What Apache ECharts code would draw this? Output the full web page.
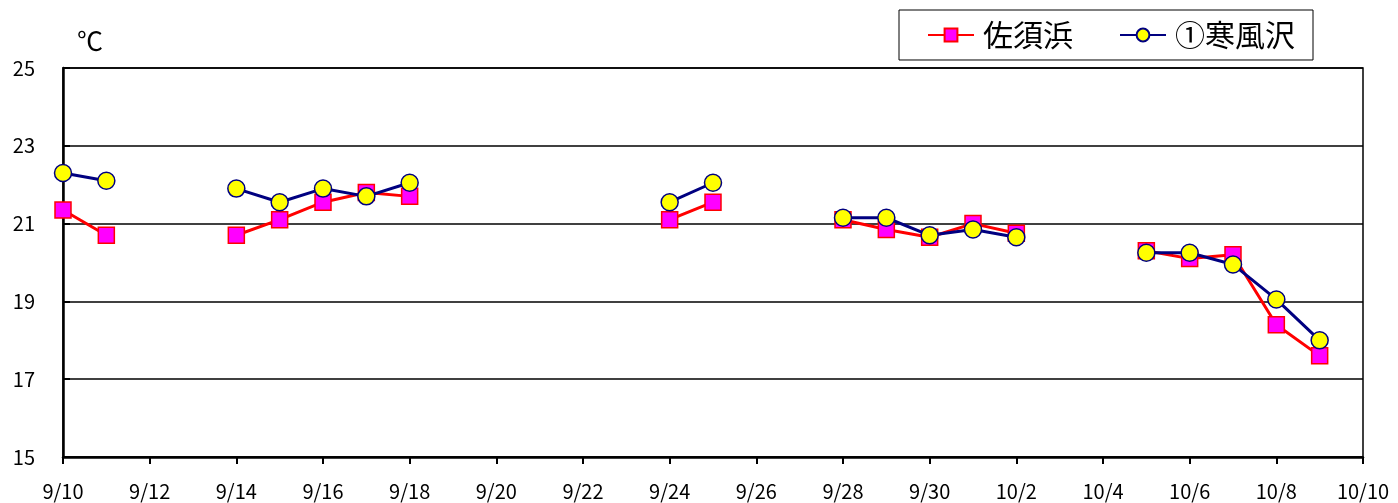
<!DOCTYPE html>
<html>
<head>
<meta charset="utf-8">
<script src="https://cdn.jsdelivr.net/npm/echarts@6/dist/echarts.min.js"></script>
<style>
  html, body { margin: 0; padding: 0; background: #fff; }
  #chart { width: 1398px; height: 503px; }
</style>
</head>
<body>
<div id="chart"></div>
<script>
// 日付 9/10 〜 10/10
const days = ['9/10','9/11','9/12','9/13','9/14','9/15','9/16','9/17','9/18','9/19','9/20',
  '9/21','9/22','9/23','9/24','9/25','9/26','9/27','9/28','9/29','9/30',
  '10/1','10/2','10/3','10/4','10/5','10/6','10/7','10/8','10/9','10/10'];

// 佐須浜
const sasuhama = [21.35, 20.7, null, null, 20.7, 21.1, 21.55, 21.8, 21.7, null, null,
  null, null, null, 21.1, 21.55, null, null, 21.1, 20.85, 20.65,
  21.0, 20.75, null, null, 20.3, 20.1, 20.2, 18.4, 17.6, null];

// ①寒風沢
const sabusawa = [22.3, 22.1, null, null, 21.9, 21.55, 21.9, 21.7, 22.05, null, null,
  null, null, null, 21.55, 22.05, null, null, 21.15, 21.15, 20.7,
  20.85, 20.65, null, null, 20.25, 20.25, 19.95, 19.05, 18.0, null];

const font = '"Noto Sans CJK JP", sans-serif';

let chart = echarts.init(document.getElementById('chart'));

let option = {
  animation: false,
  textStyle: { fontFamily: font },
  grid: {
    left: 63, right: 35, top: 68, bottom: 46,
    show: true,
    borderColor: '#000',
    borderWidth: 1.5
  },
  legend: {
    right: 85,
    top: 10,
    itemGap: 46,
    itemWidth: 46,
    itemHeight: 16,
    padding: [10, 18, 10, 28],
    borderColor: '#000',
    borderWidth: 1,
    textStyle: { fontSize: 30, color: '#000', fontFamily: font, padding: [0, 0, 0, 4] },
    data: ['佐須浜', '①寒風沢']
  },
  xAxis: {
    type: 'category',
    boundaryGap: false,
    data: days,
    axisLine: { lineStyle: { color: '#000', width: 2.5 } },
    axisTick: { show: true, interval: 1, length: 7, lineStyle: { color: '#000', width: 2 } },
    axisLabel: { interval: 1, margin: 24, fontSize: 20, color: '#000', fontFamily: font },
    splitLine: { show: false }
  },
  yAxis: {
    type: 'value',
    min: 15,
    max: 25,
    interval: 2,
    name: '℃',
    nameLocation: 'end',
    nameGap: 14,
    nameTextStyle: { fontSize: 26, color: '#000', align: 'left', padding: [0, 0, 0, 14] },
    axisLine: { show: true, lineStyle: { color: '#000', width: 2.5 } },
    axisTick: { show: true, inside: true, length: 7, lineStyle: { color: '#000', width: 2 } },
    axisLabel: { margin: 28, fontSize: 20, color: '#000', fontFamily: font },
    splitLine: { show: true, lineStyle: { color: '#000', width: 1.5 } }
  },
  series: [
    {
      name: '佐須浜',
      type: 'line',
      data: sasuhama,
      symbol: 'rect',
      symbolSize: 16,
      lineStyle: { color: '#ff0000', width: 3 },
      itemStyle: { color: '#ff00ff', borderColor: '#ff0000', borderWidth: 1.5 },
      z: 2
    },
    {
      name: '①寒風沢',
      type: 'line',
      data: sabusawa,
      symbol: 'circle',
      symbolSize: 17,
      lineStyle: { color: '#000080', width: 3 },
      itemStyle: { color: '#ffff00', borderColor: '#000080', borderWidth: 1.5 },
      z: 3
    }
  ]
};

chart.setOption(option);
</script>
</body>
</html>
